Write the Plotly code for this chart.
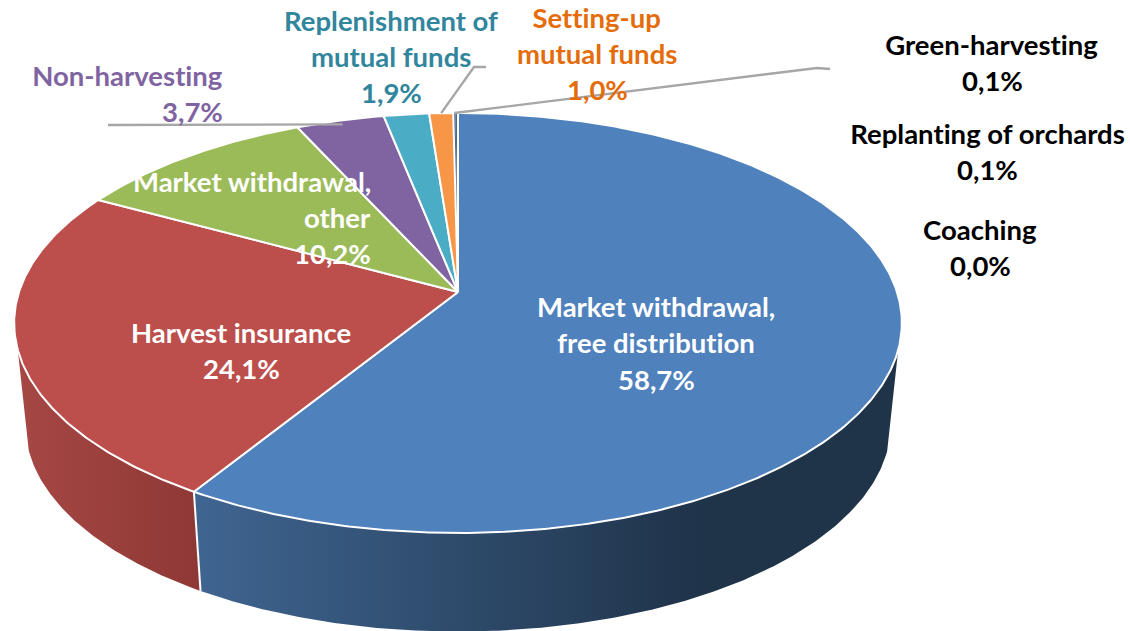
import numpy as np
import plotly.graph_objects as go

# ---- data ----
categories = ["Market withdrawal, free distribution", "Harvest insurance", "Market withdrawal, other",
              "Non-harvesting", "Replenishment of mutual funds", "Setting-up mutual funds",
              "Green-harvesting", "Replanting of orchards", "Coaching"]
values = [58.7, 24.1, 10.2, 3.7, 1.9, 1.0, 0.1, 0.1, 0.0]
top_colors = ["#4F81BD", "#BC4E4B", "#9BBB59", "#8064A2", "#4BACC6", "#F79646", "#4A6A8E", "#4A6A8E", "#5F497A"]

# ---- projection of the pie disc ----
CX, AY, K = 458.0, 292.0, 0.1476
A_TOP, B_TOP = 439.0, 205.4
A_BOT, B_BOT, AY_BOT = 428.0, 202.5, 394.0
VIS_L, VIS_R = 254.3, 105.7  # angles of the disc silhouette


def proj(theta_deg, r=1.0, a=A_TOP, b=B_TOP, ay=AY):
    t = np.radians(theta_deg)
    u, v = r * np.sin(t), r * np.cos(t)
    den = 1 + K * v
    return CX + a * u / den, ay - b * v / den


def arc(t0, t1, **kw):
    n = max(2, int(abs(t1 - t0) * 2) + 2)
    return proj(np.linspace(t0, t1, n), **kw)


total = sum(values)
cum = np.concatenate([[0], np.cumsum(values)]) / total * 360
no_hover = dict(hoverinfo="skip", showlegend=False, mode="lines")
fig = go.Figure()

# side walls
walls = {0: (VIS_R, cum[1]), 1: (cum[1], VIS_L)}
wall_scales = {0: [[0, "#3F6591"], [0.72, "#1F3349"], [1, "#1F3349"]], 1: [[0, "#A64744"], [1, "#8E3835"]]}
for i, (t0, t1) in walls.items():
    xt, yt = arc(t0, t1)
    xb, yb = arc(t1, t0, a=A_BOT, b=B_BOT, ay=AY_BOT)
    fig.add_trace(go.Scatter(x=np.r_[xt, xb, xt[0]], y=np.r_[yt, yb, yt[0]], fill="toself", name=categories[i],
                             fillgradient=dict(type="horizontal", colorscale=wall_scales[i]),
                             line=dict(width=0, color="rgba(0,0,0,0)"), **no_hover))

# divider on the side wall
x0, y0 = proj(cum[1])
x1, y1 = proj(cum[1], a=A_BOT, b=B_BOT, ay=AY_BOT)
fig.add_trace(go.Scatter(x=[x0, x1], y=[y0, y1], line=dict(color="white", width=2), **no_hover))

# top face slices: the thin ones first, so the neighbours' white edges stay on top
order = sorted(range(len(values)), key=lambda j: (values[j] >= 0.5, j))
for i in order:
    if values[i] == 0:
        continue
    xa, ya = arc(cum[i], cum[i + 1])
    lw = 0 if values[i] < 0.5 else 2
    fig.add_trace(go.Scatter(x=np.r_[CX, xa, CX], y=np.r_[AY, ya, AY], fill="toself", fillcolor=top_colors[i],
                             name=categories[i], line=dict(color="white", width=lw), **no_hover))

# leader lines: elbow end, elbow, slice rim (or just inside it)
leaders = [(3, [(108, 125)], 0.975), (5, [(486, 67), (474, 67)], 1.0), (6, [(830, 69), (817, 68)], 1.0)]
for idx, pts, r in leaders:
    rx, ry = proj((cum[idx] + cum[idx + 1]) / 2, r=r)
    fig.add_trace(go.Scatter(x=[p[0] for p in pts] + [rx], y=[p[1] for p in pts] + [ry],
                             line=dict(color="#A6A6A6", width=2.4), **no_hover))

WHITE, PUR, TEAL, ORA, BLK = "white", "#8064A2", "#31859C", "#E46C0A", "#000000"
# text line, anchor x, centre y, alignment, colour
labels = [
    ("Market withdrawal,", 656, 306.5, "center", WHITE), ("free distribution", 656, 342.5, "center", WHITE), ("58,7%", 656, 379.5, "center", WHITE),
    ("Harvest insurance", 241, 332.5, "center", WHITE), ("24,1%", 241, 368.5, "center", WHITE),
    ("Market withdrawal,", 372, 181.5, "right", WHITE), ("other", 372, 217.5, "right", WHITE), ("10,2%", 372, 253.5, "right", WHITE),
    ("Non-harvesting", 224, 75.5, "right", PUR), ("3,7%", 224, 111.5, "right", PUR),
    ("Replenishment of", 391, 20.5, "center", TEAL), ("mutual funds", 391, 56.5, "center", TEAL), ("1,9%", 391, 92.5, "center", TEAL),
    ("Setting-up", 597, 17.5, "center", ORA), ("mutual funds", 597, 53.5, "center", ORA), ("1,0%", 597, 89.5, "center", ORA),
    ("Green-harvesting", 992, 44.5, "center", BLK), ("0,1%", 992, 80.5, "center", BLK),
    ("Replanting of orchards", 987, 133.5, "center", BLK), ("0,1%", 987, 169.5, "center", BLK),
    ("Coaching", 980, 229.5, "center", BLK), ("0,0%", 980, 265.5, "center", BLK),
]
FS = 27.5
for txt, x, y, al, col in labels:
    fig.add_annotation(x=x, y=y, text="<b>%s</b>" % txt, showarrow=False, xanchor=al, yanchor="middle",
                       font=dict(family="Lato", size=FS, color=col), borderpad=0, xref="x", yref="y")

axis = dict(visible=False, fixedrange=True)
fig.update_layout(width=1130, height=631, margin=dict(l=0, r=0, t=0, b=0), paper_bgcolor="white", plot_bgcolor="white",
                  xaxis=dict(range=[0, 1130], **axis), yaxis=dict(range=[631, 0], **axis), showlegend=False)
fig.write_html("out.html", config={"displayModeBar": False},
               post_script="document.body.style.margin='0';document.body.style.overflow='hidden';"
                           "var s=document.createElement('style');"
                           "s.textContent='svg text{font-variant-ligatures:none !important;font-feature-settings:\"liga\" 0,\"clig\" 0 !important;}';"
                           "document.head.appendChild(s);")
